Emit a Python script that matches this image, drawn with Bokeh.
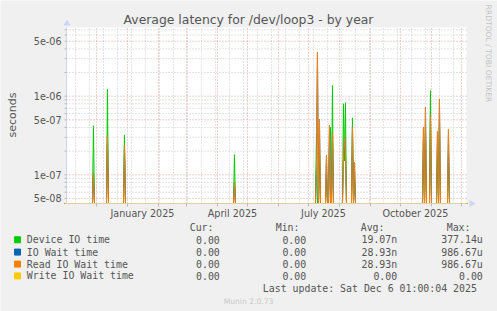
import numpy as np
import pandas as pd
from bokeh.plotting import figure
from bokeh.models import Range1d, LogScale, ColumnDataSource
from bokeh.core.properties import value
from bokeh.embed import file_html
from bokeh.resources import INLINE

# ---------------- data (daily averages, seconds) ----------------
event_dates = ["2024-11-28", "2024-12-12", "2024-12-29", "2025-04-18",
               "2025-07-09", "2025-07-10", "2025-07-12", "2025-07-19",
               "2025-07-22", "2025-07-23", "2025-07-25", "2025-08-05",
               "2025-08-06", "2025-08-07", "2025-08-14", "2025-08-16",
               "2025-10-24", "2025-10-26", "2025-10-31", "2025-11-07",
               "2025-11-09", "2025-11-18"]
device_io = [4.2e-7, 1.22e-6, 3.2e-7, 1.8e-7,
             3.3e-7, 0.0, 2.5e-7, 1.0e-7,
             2.5e-7, 4.0e-7, 1.37e-6, 8.0e-7,
             1.5e-7, 8.3e-7, 5.3e-7, 1.0e-7,
             2.5e-7, 4.0e-7, 1.18e-6, 2.0e-7,
             5.0e-7, 2.0e-7]
read_wait = [1.03e-7, 3.1e-7, 2.4e-7, 8.0e-8,
             1.2e-7, 3.63e-6, 5.06e-7, 1.76e-7,
             4.24e-7, 0.0, 3.5e-7, 1.5e-7,
             3.0e-7, 2.0e-7, 4.0e-7, 1.45e-7,
             4.0e-7, 7.2e-7, 5.7e-7, 3.6e-7,
             9.1e-7, 3.8e-7]
io_wait = list(read_wait)
write_wait = [0.0] * len(event_dates)

series_names = ["Device IO time", "IO Wait time", "Read IO Wait time", "Write IO Wait time"]
series_colors = ["#00cc00", "#0066b3", "#ff8000", "#ffcc00"]
col_heads = ["Cur:", "Min:", "Avg:", "Max:"]
cur_vals = ["0.00", "0.00", "0.00", "0.00"]
min_vals = ["0.00", "0.00", "0.00", "0.00"]
avg_vals = ["19.07n", "28.93n", "28.93n", "0.00"]
max_vals = ["377.14u", "986.67u", "986.67u", "0.00"]
title_text = "Average latency for /dev/loop3 - by year"
y_label = "seconds"
update_text = "Last update: Sat Dec  6 01:00:04 2025"
version_text = "Munin 2.0.73"
watermark = "RRDTOOL / TOBI OETIKER"

y_major = [5e-08, 1e-07, 5e-07, 1e-06, 5e-06]
y_minor = [6e-08, 7e-08, 8e-08, 9e-08,
           2e-07, 3e-07, 4e-07, 6e-07, 7e-07, 8e-07, 9e-07,
           2e-06, 3e-06, 4e-06, 6e-06, 7e-06]
x_label_dates = ["2025-01-16", "2025-04-16", "2025-07-16", "2025-10-16"]

start = pd.Timestamp("2024-11-01 01:00")
end = pd.Timestamp("2025-12-06 01:00")
Y_LO, Y_HI = 4.31e-8, 7.48e-6

# ---------------- layout constants (canvas pixels) ----------------
W, H = 497, 311
PL, PR, PT, PB = 66, 466, 27, 203
BG = "#f0f0f0"
TXT = "#555555"
MAJ = "#e4a0a0"
MIN = "#c8c8c8"


def ms(t):
    return pd.Timestamp(t).value // 10**6


# ---------------- daily series ----------------
days = pd.date_range("2024-10-30", "2025-12-07", freq="D")
ev = pd.to_datetime(event_dates)


def daily(vals):
    s = pd.Series(vals, index=ev).reindex(days, fill_value=0.0)
    # zero cannot be shown on a log axis: draw it on the bottom edge
    return np.where(s.values > 0, s.values, Y_LO)


src = ColumnDataSource(dict(
    x=days,
    device=daily(device_io),
    iowait=daily(io_wait),
    read=daily(read_wait),
    write=daily(write_wait),
))

# ---------------- figure: whole canvas is the frame ----------------
p = figure(width=W, height=H, x_range=Range1d(0, W), y_range=Range1d(H, 0),
           output_backend="svg", toolbar_location=None,
           x_axis_location=None, y_axis_location=None, min_border=0)
p.grid.visible = False
p.outline_line_color = None
p.background_fill_color = BG
p.border_fill_color = BG

# data scales placed on the plot area
t0, t1 = ms(start), ms(end)
ms_px = (t1 - t0) / (PR - PL)
dec_px = (np.log10(Y_HI) - np.log10(Y_LO)) / (PB - PT)
p.extra_x_ranges = {"time": Range1d(t0 - PL * ms_px, t1 + (W - PR) * ms_px)}
p.extra_y_ranges = {"lat": Range1d(10 ** (np.log10(Y_LO) - (H - PB) * dec_px),
                                   10 ** (np.log10(Y_HI) + PT * dec_px))}
p.extra_y_scales = {"lat": LogScale()}
D = dict(x_range_name="time", y_range_name="lat")

# plot area
p.quad(left=[t0], right=[t1], bottom=[Y_LO], top=[Y_HI],
       fill_color="#ffffff", line_color=None, **D)

# grid
month_starts = [ms(t) for t in pd.date_range("2024-12-01", "2025-12-01", freq="MS")]
biweekly = [ms(t) for t in pd.date_range("2024-11-10", "2025-12-06", freq="14D")]
p.segment(x0=t0, x1=t1, y0=y_minor, y1=y_minor, line_color=MIN,
          line_dash="1 2", line_width=1, **D)
p.segment(x0=biweekly, x1=biweekly, y0=Y_LO, y1=Y_HI, line_color=MIN,
          line_dash="1 2", line_width=1, **D)
p.segment(x0=t0, x1=t1, y0=y_major, y1=y_major, line_color=MAJ,
          line_dash="1 2", line_width=1, **D)
p.segment(x0=month_starts, x1=month_starts, y0=Y_LO, y1=Y_HI, line_color=MAJ,
          line_dash="1 2", line_width=1, **D)

# data
for col, c in zip(["device", "iowait", "read", "write"], series_colors):
    p.line("x", col, source=src, line_color=c, line_width=1, **D)

# axes lines, ticks and arrows
tick_lo = 10 ** (np.log10(Y_LO) - 3 * dec_px)
p.segment(x0=[t0], x1=[t1], y0=[Y_LO], y1=[Y_LO], line_color="#dcd2a2", **D)
p.segment(x0=month_starts, x1=month_starts, y0=Y_LO, y1=tick_lo,
          line_color="#b8b8b8", **D)
p.segment(x0=[t0], x1=[t0], y0=[Y_LO], y1=[Y_HI], line_color="#d0d4f8", **D)
p.segment(x0=t0 - 2 * ms_px, x1=t0, y0=y_major + y_minor, y1=y_major + y_minor,
          line_color="#b8b8b8", **D)
p.scatter(x=[PL + 0.5], y=[PT - 4], marker="triangle", size=7, color="#d0d4f8",
          line_color=None)
p.scatter(x=[PR + 5], y=[PB], marker="triangle", size=7, angle=-np.pi / 2,
          color="#d0d4f8", line_color=None)


def txt(x, y, text, size, color=TXT, font="DejaVu Sans", align="left",
        angle=0.0, **kw):
    p.text(x=x, y=y, text=text, text_font=value(font),
           text_font_size=value(size), text_color=color, text_align=align,
           text_baseline="middle", angle=angle, **kw)


# tick labels
p.text(x=PL - 5, y=y_major, text=[f"{v:.0e}" for v in y_major],
       text_font=value("DejaVu Sans"), text_font_size=value("9.6px"),
       text_color=TXT, text_align="right", text_baseline="middle",
       y_range_name="lat")
p.text(x=[ms(d) for d in x_label_dates], y=PB + 9.7,
       text=[pd.Timestamp(d).strftime("%B %Y") for d in x_label_dates],
       text_font=value("DejaVu Sans"), text_font_size=value("9.6px"),
       text_color=TXT, text_align="center", text_baseline="middle",
       x_range_name="time")

txt([11.5], [114.5], [y_label], "11px", angle=np.pi / 2, align="center")
txt([248], [19.3], [title_text], "12.4px", align="center")
txt([488.3], [53], [watermark], "7.6px", color="#c4c4c4", align="center",
    angle=-np.pi / 2)

# legend
MONO = "DejaVu Sans Mono"
LS = "9.9px"
head_right = [213, 299, 384, 470]
val_right = [219.3, 305.7, 396.7, 482.3]
txt(head_right, [227.3] * 4, col_heads, LS, font=MONO, align="right")
row_y = [239.3, 251.6, 263.6, 275.4]
p.rect(x=[17] * 4, y=row_y, width=6, height=6, color=series_colors)
txt([26.3] * 4, row_y, series_names, LS, font=MONO)
for vals, xr in zip([cur_vals, min_vals, avg_vals, max_vals], val_right):
    txt([xr] * 4, row_y, vals, LS, font=MONO, align="right")
txt([482.3], [287.7], [update_text], LS, font=MONO, align="right")
txt([248], [300.7], [version_text], "7.6px", color="#c8c8c8", align="center")

open("out.html", "w").write(file_html(p, INLINE))
